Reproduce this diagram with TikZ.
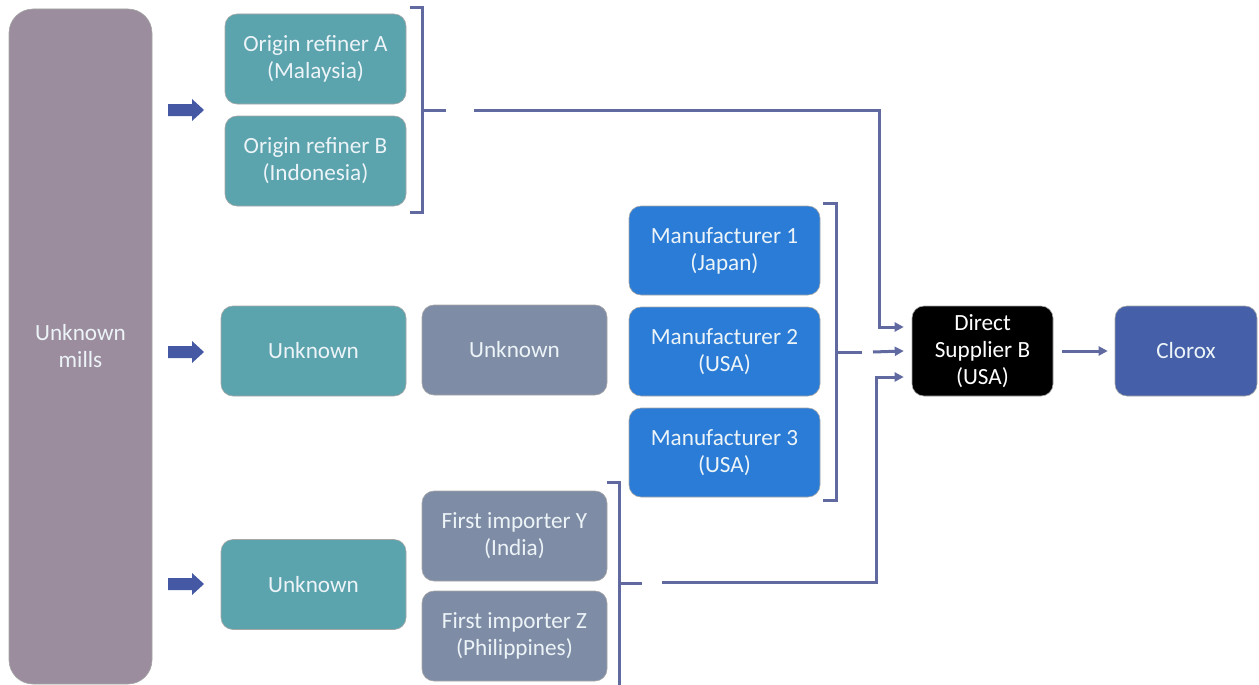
\documentclass[tikz,border=0pt]{standalone}
\usepackage{fontspec}
\setmainfont{Carlito}
\usetikzlibrary{arrows.meta}
\definecolor{millc}{RGB}{156,141,158}
\definecolor{tealc}{RGB}{91,163,173}
\definecolor{grayc}{RGB}{127,140,165}
\definecolor{bluec}{RGB}{43,124,214}
\definecolor{cloroxc}{RGB}{69,96,168}
\definecolor{linec}{RGB}{96,106,160}
\definecolor{fatc}{RGB}{68,88,164}
\definecolor{txtc}{RGB}{236,244,248}
\begin{document}
\begin{tikzpicture}[x=1pt,y=-1pt,
  box/.style={rounded corners=12pt, draw=black!35, line width=0.6pt, inner sep=0pt,
    align=center, text=txtc, font=\fontsize{23.2}{27}\selectfont},
  wide/.style={minimum width=185pt, minimum height=90pt},
  conn/.style={draw=linec, line width=3pt, -{Triangle[length=9pt,width=9pt]}},
  brk/.style={draw=linec, line width=3pt},
  fat/.style={fill=fatc}]
\useasboundingbox (0,0) rectangle (1259,685);
% nodes
\node[box, fill=millc, rounded corners=24pt, minimum width=143pt, minimum height=675pt] (mills) at (80.5,346.5) {Unknown\\mills};
\node[box, fill=tealc, minimum width=181pt, minimum height=90pt] (rA) at (315.5,59) {Origin refiner A\\(Malaysia)};
\node[box, fill=tealc, minimum width=181pt, minimum height=90pt] (rB) at (315.5,161) {Origin refiner B\\(Indonesia)};
\node[box, fill=tealc, wide] (u1) at (313.5,351) {Unknown};
\node[box, fill=grayc, wide] (u2) at (514.5,350) {Unknown};
\node[box, fill=bluec, minimum width=191pt, minimum height=89pt] (m1) at (724.5,250.5) {Manufacturer 1\\(Japan)};
\node[box, fill=bluec, minimum width=191pt, minimum height=89pt] (m2) at (724.5,351.5) {Manufacturer 2\\(USA)};
\node[box, fill=bluec, minimum width=191pt, minimum height=89pt] (m3) at (724.5,452.5) {Manufacturer 3\\(USA)};
\node[box, fill=tealc, wide] (u3) at (313.5,584.5) {Unknown};
\node[box, fill=grayc, wide] (fy) at (514.5,536) {First importer Y\\(India)};
\node[box, fill=grayc, wide] (fz) at (514.5,636) {First importer Z\\(Philippines)};
\node[box, fill=black, text=white, minimum width=141pt, minimum height=90pt] (ds) at (982.5,351) {Direct\\Supplier B\\(USA)};
\node[box, fill=cloroxc, minimum width=142pt, minimum height=90pt] (cl) at (1186,351) {Clorox};
% fat arrows
\foreach \yy in {110,352,584}{
  \fill[fat] (168,\yy-6) -- (192,\yy-6) -- (192,\yy-11) -- (204,\yy) -- (192,\yy+11) -- (192,\yy+6) -- (168,\yy+6) -- cycle;
}
% brackets
\draw[brk] (410,8) -- (422,8) -- (422,212) -- (410,212);
\draw[brk] (422,110) -- (446,110);
\draw[brk] (823,203) -- (836,203) -- (836,500) -- (823,500);
\draw[brk] (836,352) -- (862,352);
\draw[brk] (607,482) -- (619,482) -- (619,690);
\draw[brk] (619,583) -- (642,583);
% connectors
\coordinate (t1) at (474,110);
\coordinate (t2) at (873,352);
\coordinate (t3) at (662,582);
\draw[conn] (t1) -| ([xshift=-32pt,yshift=24pt]ds.west) -- ([xshift=-8pt,yshift=24pt]ds.west);
\draw[conn] (t2) -- ([xshift=-8pt]ds.west);
\draw[conn] (t3) -| ([xshift=-35pt,yshift=-26pt]ds.west) -- ([xshift=-8pt,yshift=-26pt]ds.west);
\draw[conn] ([xshift=9pt]ds.east) -- ([xshift=-7pt]cl.west);
\end{tikzpicture}
\end{document}
